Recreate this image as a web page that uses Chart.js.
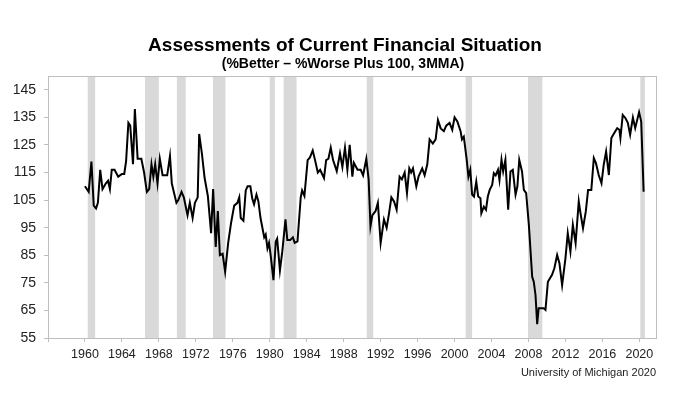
<!DOCTYPE html>
<html>
<head>
<meta charset="utf-8">
<script src="https://cdn.jsdelivr.net/npm/chart.js@4"></script>
<style>
    body { margin: 0; background: #fff; }
    #wrap { width: 700px; height: 398px; position: relative; }
</style>
</head>
<body>
<div id="wrap"><canvas id="chart"></canvas></div>
<script>
// Text
const titleText = 'Assessments of Current Financial Situation';
const subtitleText = '(%Better – %Worse Plus 100, 3MMA)';
const sourceText = 'University of Michigan 2020';

// Series (decimal year, index value)
const years = [
    1960.00, 1960.40, 1960.70, 1960.95, 1961.20, 1961.40, 1961.65, 1961.90, 1962.25, 1962.50,
    1962.70, 1962.90, 1963.20, 1963.60, 1964.00, 1964.25, 1964.45, 1964.70, 1964.90, 1965.20,
    1965.40, 1965.70, 1966.10, 1966.40, 1966.70, 1966.95, 1967.20, 1967.40, 1967.60, 1967.85,
    1968.10, 1968.40, 1968.90, 1969.20, 1969.40, 1969.90, 1970.10, 1970.45, 1970.70, 1971.10,
    1971.35, 1971.65, 1971.90, 1972.20, 1972.36, 1972.65, 1972.95, 1973.30, 1973.65, 1973.87,
    1974.15, 1974.38, 1974.60, 1974.90, 1975.17, 1975.50, 1975.80, 1976.15, 1976.50, 1976.70,
    1976.86, 1977.15, 1977.40, 1977.60, 1977.90, 1978.10, 1978.30, 1978.56, 1978.77, 1979.00,
    1979.40, 1979.56, 1979.75, 1979.92, 1980.10, 1980.40, 1980.65, 1980.80, 1981.10, 1981.36,
    1981.70, 1981.90, 1982.20, 1982.50, 1982.70, 1983.00, 1983.35, 1983.50, 1983.75, 1984.10,
    1984.35, 1984.65, 1984.90, 1985.20, 1985.45, 1985.87, 1986.10, 1986.35, 1986.60, 1986.85,
    1987.25, 1987.60, 1987.86, 1988.14, 1988.40, 1988.65, 1988.94, 1989.10, 1989.50, 1989.84,
    1990.10, 1990.45, 1990.70, 1990.90, 1991.10, 1991.45, 1991.70, 1992.00, 1992.36, 1992.65,
    1992.90, 1993.16, 1993.45, 1993.73, 1994.05, 1994.30, 1994.60, 1994.85, 1995.10, 1995.30,
    1995.50, 1995.86, 1996.10, 1996.50, 1996.76, 1997.05, 1997.30, 1997.65, 1997.95, 1998.20,
    1998.50, 1998.84, 1999.10, 1999.46, 1999.75, 2000.00, 2000.30, 2000.65, 2000.80, 2001.00,
    2001.30, 2001.50, 2001.70, 2001.90, 2002.10, 2002.35, 2002.56, 2002.80, 2002.90, 2003.17,
    2003.40, 2003.60, 2003.80, 2004.07, 2004.25, 2004.45, 2004.70, 2004.86, 2005.08, 2005.26,
    2005.50, 2005.80, 2006.05, 2006.30, 2006.60, 2006.80, 2007.00, 2007.30, 2007.50, 2007.75,
    2008.04, 2008.40, 2008.57, 2008.76, 2008.94, 2009.10, 2009.65, 2009.84, 2010.10, 2010.55,
    2010.80, 2011.10, 2011.35, 2011.64, 2012.00, 2012.25, 2012.54, 2012.80, 2013.10, 2013.44,
    2013.60, 2013.90, 2014.20, 2014.45, 2014.80, 2015.07, 2015.30, 2015.60, 2015.90, 2016.14,
    2016.40, 2016.70, 2016.97, 2017.20, 2017.60, 2017.84, 2017.95, 2018.20, 2018.50, 2018.75,
    2019.00, 2019.30, 2019.55, 2019.97, 2020.20, 2020.46
];
const values = [
    110, 108, 119, 103, 102, 104, 116, 109, 111, 112,
    109, 116, 116, 113.5, 114.5, 114.5, 119, 133, 132, 118,
    138, 120, 120, 115, 108, 109, 118, 113.5, 118, 111,
    120, 114, 114, 121, 111, 104, 105, 108, 106, 99.5,
    104, 98.5, 104, 106, 129, 122, 113, 106.5, 93, 109,
    88, 101, 85, 85.5, 79, 89.5, 96.5, 103, 104, 106,
    98.5, 97.5, 108.5, 110, 110, 105.7, 103.5, 107, 104.5, 98.5,
    91.5, 92.5, 87.5, 89.5, 85, 76, 90, 91, 79.5, 86.5,
    98, 90.5, 90.5, 91.5, 89.5, 90, 106, 108.5, 106.5, 119.5,
    120.5, 123, 119.5, 115, 116, 113, 119.5, 120, 124, 119.5,
    115.5, 122, 117, 124, 116, 125, 113.5, 118.5, 116, 116,
    114, 120, 112.5, 95.5, 99.5, 101, 104, 89.5, 98, 95,
    100, 106, 104.5, 101.5, 113.5, 112.5, 115, 107.5, 116.5, 115,
    116.5, 110, 113.5, 116.5, 114, 118, 127, 125.5, 127, 134,
    131, 130, 132, 133, 130.5, 135, 133.5, 130, 127, 128,
    120, 113.5, 116, 107, 106.3, 111.7, 106.3, 105.7, 100.2, 102.6,
    101.5, 106.3, 108.7, 110.5, 114.8, 114, 116, 112.3, 119.6, 115.4,
    119.6, 101.5, 115.4, 116, 107, 110, 119.6, 115.4, 108.7, 107.5,
    96, 77.2, 75.4, 70.6, 60, 65.8, 65.8, 65.2, 75.4, 77.9,
    80.3, 85.1, 82.1, 74.2, 83.9, 93, 86.3, 96, 89.4, 104.5,
    100.8, 94.8, 100.8, 108.7, 108.7, 120.2, 118.4, 114.1, 111.1, 117.8,
    122.6, 114.1, 127.5, 128.9, 131.1, 130.5, 127.5, 135.9, 134.7, 133,
    128.7, 134.9, 131.1, 136.9, 133.5, 108
];

// Recession shading (start / end, decimal years)
const recessionStart = [1960.3, 1966.5, 1969.95, 1973.85, 1980.0, 1981.5, 1990.5, 2001.2, 2007.95, 2020.1];
const recessionEnd   = [1961.1, 1968.0, 1970.9, 1975.2, 1980.55, 1982.9, 1991.2, 2001.9, 2009.5, 2020.6];

// Axis ticks
const yTicks = [55, 65, 75, 85, 95, 105, 115, 125, 135, 145];
const xTicks = [1956, 1960, 1964, 1968, 1972, 1976, 1980, 1984, 1988, 1992, 1996, 2000, 2004, 2008, 2012, 2016, 2020];

const points = years.map((yr, i) => ({ x: yr, y: values[i] }));
const fontFamily = '"Liberation Sans", Arial, sans-serif';
const frameColor = '#bfbfbf';

// Grey bars behind the line
const recessionBands = {
    id: 'recessionBands',
    beforeDatasetsDraw(chart) {
        const { ctx, chartArea, scales } = chart;
        ctx.save();
        ctx.fillStyle = '#d9d9d9';
        recessionStart.forEach((start, i) => {
            const x1 = Math.max(scales.x.getPixelForValue(start), chartArea.left);
            const x2 = Math.min(scales.x.getPixelForValue(recessionEnd[i]), chartArea.right);
            ctx.fillRect(x1, chartArea.top, x2 - x1, chartArea.bottom - chartArea.top);
        });
        ctx.restore();
    }
};

// Titles, box round the plot and source note
const frameAndText = {
    id: 'frameAndText',
    afterDraw(chart) {
        const { ctx, chartArea } = chart;
        ctx.save();
        ctx.strokeStyle = frameColor;
        ctx.lineWidth = 1;
        ctx.strokeRect(chartArea.left + 0.5, chartArea.top + 0.5, chartArea.right - chartArea.left, chartArea.bottom - chartArea.top);

        ctx.textAlign = 'center';
        ctx.textBaseline = 'middle';
        ctx.fillStyle = '#000';
        ctx.font = 'bold 19px ' + fontFamily;
        ctx.fillText(titleText, 345, 46);
        ctx.font = 'bold 14px ' + fontFamily;
        ctx.fillText(subtitleText, 343, 64);

        ctx.fillStyle = '#222';
        ctx.font = '11px ' + fontFamily;
        ctx.textAlign = 'right';
        ctx.fillText(sourceText, chartArea.right, 373);
        ctx.restore();
    }
};

new Chart(document.getElementById('chart'), {
    type: 'line',
    data: {
        datasets: [{
            data: points,
            borderColor: '#000',
            borderWidth: 2,
            pointRadius: 0,
            tension: 0,
            fill: false
        }]
    },
    options: {
        responsive: true,
        maintainAspectRatio: false,
        animation: false,
        layout: { padding: { top: 76, right: 44, bottom: 30, left: 0 } },
        plugins: {
            legend: { display: false },
            tooltip: { enabled: false },
            title: { display: false }
        },
        scales: {
            x: {
                type: 'linear',
                min: 1956,
                max: 2021.8,
                afterBuildTicks: (scale) => { scale.ticks = xTicks.map(v => ({ value: v })); },
                afterFit: (scale) => { scale.height = 30; },
                grid: { drawOnChartArea: false, drawTicks: true, tickLength: 4, color: frameColor },
                border: { color: frameColor },
                ticks: {
                    autoSkip: false,
                    maxRotation: 0,
                    padding: 5,
                    color: '#222',
                    font: { family: fontFamily, size: 12.5 },
                    callback: (value) => value === 1956 ? '' : String(value)
                }
            },
            y: {
                min: 55,
                max: 150,
                afterBuildTicks: (scale) => { scale.ticks = yTicks.map(v => ({ value: v })); },
                afterFit: (scale) => { scale.width = 48; },
                grid: { drawOnChartArea: false, drawTicks: true, tickLength: 4, color: frameColor },
                border: { color: frameColor },
                ticks: {
                    padding: 8,
                    color: '#222',
                    font: { family: fontFamily, size: 14 },
                    callback: (value) => String(value)
                }
            }
        }
    },
    plugins: [recessionBands, frameAndText]
});
</script>
</body>
</html>
